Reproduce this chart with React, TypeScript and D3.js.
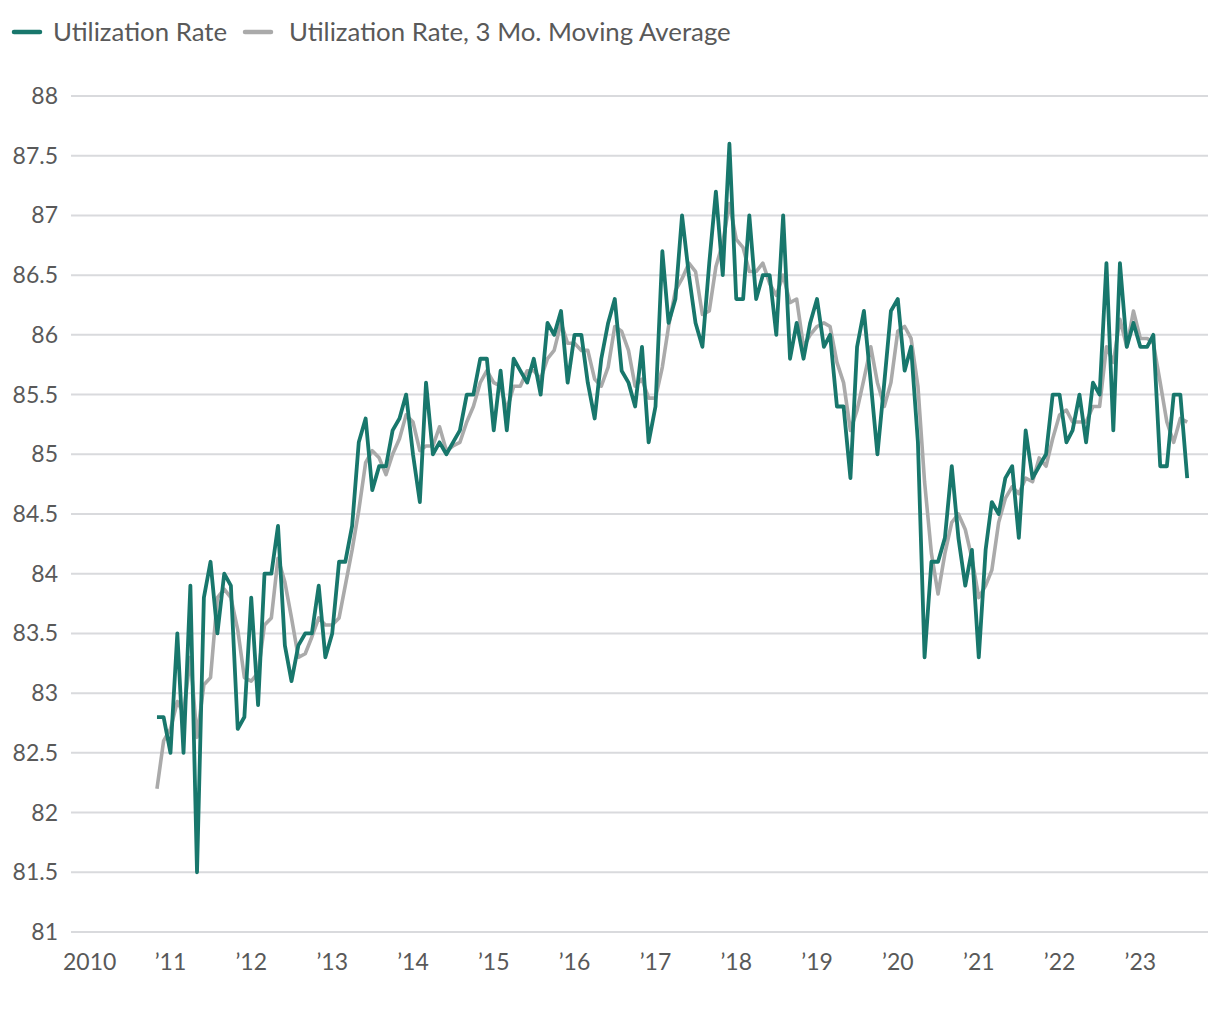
import React from "react";
import * as d3 from "d3";

// Monthly utilization rate, Nov 2010 – Aug 2023
const startMonth = new Date(2010, 10, 1);
const utilization: number[] = [
  82.8, 82.8,
  82.5, 83.5, 82.5, 83.9, 81.5, 83.8, 84.1, 83.5, 84.0, 83.9, 82.7, 82.8,
  83.8, 82.9, 84.0, 84.0, 84.4, 83.4, 83.1, 83.4, 83.5, 83.5, 83.9, 83.3,
  83.5, 84.1, 84.1, 84.4, 85.1, 85.3, 84.7, 84.9, 84.9, 85.2, 85.3, 85.5,
  85.0, 84.6, 85.6, 85.0, 85.1, 85.0, 85.1, 85.2, 85.5, 85.5, 85.8, 85.8,
  85.2, 85.7, 85.2, 85.8, 85.7, 85.6, 85.8, 85.5, 86.1, 86.0, 86.2, 85.6,
  86.0, 86.0, 85.6, 85.3, 85.8, 86.1, 86.3, 85.7, 85.6, 85.4, 85.9, 85.1,
  85.4, 86.7, 86.1, 86.3, 87.0, 86.5, 86.1, 85.9, 86.6, 87.2, 86.5, 87.6,
  86.3, 86.3, 87.0, 86.3, 86.5, 86.5, 86.0, 87.0, 85.8, 86.1, 85.8, 86.1,
  86.3, 85.9, 86.0, 85.4, 85.4, 84.8, 85.9, 86.2, 85.6, 85.0, 85.6, 86.2,
  86.3, 85.7, 85.9, 85.1, 83.3, 84.1, 84.1, 84.3, 84.9, 84.3, 83.9, 84.2,
  83.3, 84.2, 84.6, 84.5, 84.8, 84.9, 84.3, 85.2, 84.8, 84.9, 85.0, 85.5,
  85.5, 85.1, 85.2, 85.5, 85.1, 85.6, 85.5, 86.6, 85.2, 86.6, 85.9, 86.1,
  85.9, 85.9, 86.0, 84.9, 84.9, 85.5, 85.5, 84.8,
];

const movingAvg: number[] = [
  82.2, 82.6,
  82.7, 82.93, 82.83, 83.3, 82.63, 83.07, 83.13, 83.8, 83.87, 83.8, 83.53, 83.13,
  83.1, 83.17, 83.57, 83.63, 84.13, 83.93, 83.63, 83.3, 83.33, 83.47, 83.63, 83.57,
  83.57, 83.63, 83.9, 84.2, 84.53, 84.93, 85.03, 84.97, 84.83, 85.0, 85.13, 85.33,
  85.27, 85.03, 85.07, 85.07, 85.23, 85.03, 85.07, 85.1, 85.27, 85.4, 85.6, 85.7,
  85.6, 85.57, 85.37, 85.57, 85.57, 85.7, 85.7, 85.63, 85.8, 85.87, 86.1, 85.93,
  85.93, 85.87, 85.87, 85.63, 85.57, 85.73, 86.07, 86.03, 85.87, 85.57, 85.63, 85.47,
  85.47, 85.73, 86.07, 86.37, 86.47, 86.6, 86.53, 86.17, 86.2, 86.57, 86.77, 87.1,
  86.8, 86.73, 86.53, 86.53, 86.6, 86.43, 86.33, 86.5, 86.27, 86.3, 85.9, 86.0,
  86.07, 86.1, 86.07, 85.77, 85.6, 85.2, 85.37, 85.63, 85.9, 85.6, 85.4, 85.6,
  86.03, 86.07, 85.97, 85.57, 84.77, 84.17, 83.83, 84.17, 84.43, 84.5, 84.37, 84.13,
  83.8, 83.9, 84.03, 84.43, 84.63, 84.73, 84.67, 84.8, 84.77, 84.97, 84.9, 85.13,
  85.33, 85.37, 85.27, 85.27, 85.27, 85.4, 85.4, 85.9, 85.77, 86.13, 85.9, 86.2,
  85.97, 85.97, 85.93, 85.6, 85.27, 85.1, 85.3, 85.27,
];

const yTicks: number[] = [81, 81.5, 82, 82.5, 83, 83.5, 84, 84.5, 85, 85.5, 86, 86.5, 87, 87.5, 88];
const xTickYears: number[] = [2010, 2011, 2012, 2013, 2014, 2015, 2016, 2017, 2018, 2019, 2020, 2021, 2022, 2023];
const xTickLabels: string[] = ["2010", "’11", "’12", "’13", "’14", "’15", "’16", "’17", "’18", "’19", "’20", "’21", "’22", "’23"];

const seriesNames = ["Utilization Rate", "Utilization Rate, 3 Mo. Moving Average"];
const GREEN = "#18776c";
const GRAY = "#aaaaaa";
const TEXT = "#595959";
const FONT = "'Source Sans Pro', Lato, 'Noto Sans', sans-serif";

export default function App() {
  const W = 1220;
  const H = 1020;
  const gridLeft = 71;
  const gridRight = 1208;

  const x = d3
    .scaleTime()
    .domain([new Date(2010, 0, 1), new Date(2023, 0, 1)])
    .range([89.7, 1140.3]);
  const y = d3.scaleLinear().domain([81, 88]).range([932, 96]);

  const dates = utilization.map((_, i) => d3.timeMonth.offset(startMonth, i));

  const line = d3
    .line<number>()
    .x((_, i) => x(dates[i]))
    .y((d) => y(d))
    .curve(d3.curveLinear);

  return (
    <svg
      width={W}
      height={H}
      viewBox={`0 0 ${W} ${H}`}
      style={{ position: "absolute", left: 0, top: 0, background: "#fff" }}
      fontFamily={FONT}
    >
      {/* Legend */}
      <g>
        <line x1={14} x2={40} y1={32} y2={32} stroke={GREEN} strokeWidth={4.5} strokeLinecap="round" />
        <text x={53} y={41} fontSize={25.8} fill={TEXT}>
          {seriesNames[0]}
        </text>
        <line x1={245} x2={271} y1={32} y2={32} stroke={GRAY} strokeWidth={4.5} strokeLinecap="round" />
        <text x={289} y={41} fontSize={25.8} fill={TEXT}>
          {seriesNames[1]}
        </text>
      </g>

      {/* Grid + y labels */}
      <g>
        {yTicks.map((t) => (
          <g key={t}>
            <line x1={gridLeft} x2={gridRight} y1={y(t)} y2={y(t)} stroke="#d9dadd" strokeWidth={2} />
            <text x={58} y={y(t)} dy="0.35em" textAnchor="end" fontSize={23} fill={TEXT}>
              {String(t)}
            </text>
          </g>
        ))}
      </g>

      {/* x labels */}
      <g>
        {xTickYears.map((yr, i) => (
          <text
            key={yr}
            x={x(new Date(yr, 0, 1))}
            y={970}
            textAnchor="middle"
            fontSize={23}
            fill={TEXT}
          >
            {xTickLabels[i]}
          </text>
        ))}
      </g>

      {/* Lines */}
      <path d={line(movingAvg) || ""} fill="none" stroke={GRAY} strokeWidth={3.6} strokeLinejoin="round" />
      <path d={line(utilization) || ""} fill="none" stroke={GREEN} strokeWidth={3.8} strokeLinejoin="round" />
    </svg>
  );
}
